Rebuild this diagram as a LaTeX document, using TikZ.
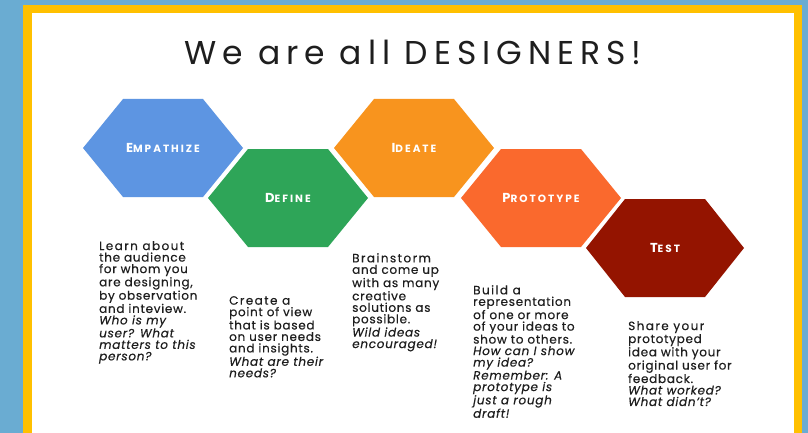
\documentclass[tikz,border=0pt]{standalone}
\usepackage{fontspec}
\usepackage{tikz}
\setmainfont{Poppins}

\definecolor{bgblue}{RGB}{106,172,210}
\definecolor{frameyellow}{RGB}{255,192,0}
\definecolor{empblue}{RGB}{93,149,226}
\definecolor{defgreen}{RGB}{46,165,88}
\definecolor{ideorange}{RGB}{248,148,30}
\definecolor{protored}{RGB}{250,105,45}
\definecolor{testred}{RGB}{148,20,0}
\definecolor{inkgray}{RGB}{30,30,30}

\newcommand{\hexcaps}[2]{{\fontsize{13}{13}\selectfont #1}{\fontsize{10.5}{11}\selectfont #2}}
\newcommand{\firstline}[1]{{\addfontfeature{LetterSpace=12}#1}}

\tikzset{
	hexlabel/.style={text=white, font=\bfseries\addfontfeature{LetterSpace=19}},
	blurb/.style={anchor=north west, align=left, inner sep=0pt, text=inkgray, font=\addfontfeature{LetterSpace=6, FakeBold=0.4}\fontsize{12}{11.5}\selectfont}
}

\begin{document}
\begin{tikzpicture}[x=1pt, y=-1pt]
					\useasboundingbox (0,0) rectangle (808,433);
					\fill[bgblue] (0,0) rectangle (808,433);
					\fill[frameyellow] (23,5) rectangle (802,433);
					\fill[white] (32,13) rectangle (794,433);
					%\draw[help lines, step=20] (0,0) grid (808,433);
					\node[anchor=base, text=inkgray, font=\addfontfeature{LetterSpace=18}\fontsize{33}{33}\selectfont] (title) at (413,65) {We are all DESIGNERS!};
					\coordinate (E) at (163,148);
					\coordinate (D) at (288,198);
					\coordinate (I) at (414,148);
					\coordinate (P) at (541,198);
					\coordinate (T) at (665,248);
					\fill[empblue, shift={(E)}] (-80,0) -- (-40,-49) -- (40,-49) -- (80,0) -- (40,49) -- (-40,49) -- cycle;
					\node[hexlabel] (empathize) at (E) {\hexcaps{E}{MPATHIZE}};
					\fill[defgreen, shift={(D)}] (-80,0) -- (-40,-49) -- (40,-49) -- (80,0) -- (40,49) -- (-40,49) -- cycle;
					\node[hexlabel] (define) at (D) {\hexcaps{D}{EFINE}};
					\fill[ideorange, shift={(I)}] (-80,0) -- (-40,-49) -- (40,-49) -- (80,0) -- (40,49) -- (-40,49) -- cycle;
					\node[hexlabel] (ideate) at (I) {\hexcaps{I}{DEATE}};
					\fill[protored, shift={(P)}] (-80,0) -- (-40,-49) -- (40,-49) -- (80,0) -- (40,49) -- (-40,49) -- cycle;
					\node[hexlabel] (prototype) at (P) {\hexcaps{P}{ROTOTYPE}};
					\fill[testred, shift={(T)}] (-79,0) -- (-40,-49) -- (40,-49) -- (79,0) -- (40,49) -- (-40,49) -- cycle;
					\node[hexlabel] (test) at (T) {\hexcaps{T}{EST}};
					\node[blurb] (learn) at (99,241) {\firstline{Learn about}\\the audience\\for whom you\\are designing,\\by observation\\and inteview.\\\textit{Who is my}\\\textit{user? What}\\\textit{matters to this}\\\textit{person?}};
					\node[blurb] (create) at (229,296) {\firstline{Create a}\\point of view\\that is based\\on user needs\\and insights.\\\textit{What are their}\\\textit{needs?}};
					\node[blurb] (brainstorm) at (352,253) {\firstline{Brainstorm}\\and come up\\with as many\\creative\\solutions as\\possible.\\\textit{Wild ideas}\\\textit{encouraged!}};
					\node[blurb] (build) at (473,285) {\firstline{Build a}\\representation\\of one or more\\of your ideas to\\show to others.\\\textit{How can I show}\\\textit{my idea?}\\\textit{Remember: A}\\\textit{prototype is}\\\textit{just a rough}\\\textit{draft!}};
					\node[blurb] (share) at (628,321) {\firstline{Share your}\\prototyped\\idea with your\\original user for\\feedback.\\\textit{What worked?}\\\textit{What didn't?}};
				\end{tikzpicture}
\end{document}
